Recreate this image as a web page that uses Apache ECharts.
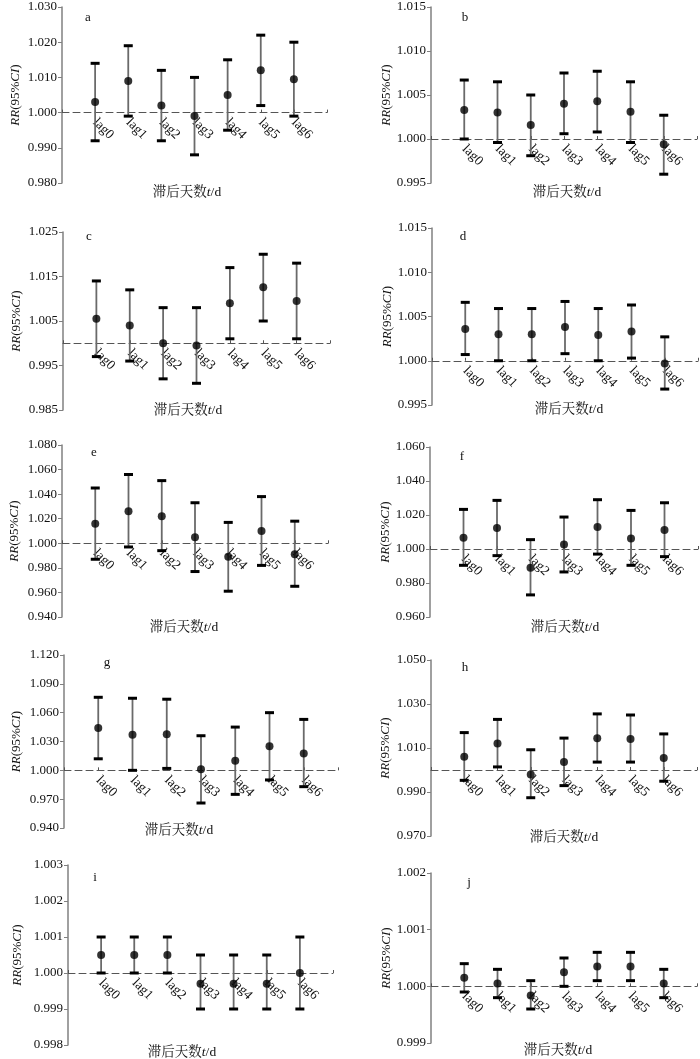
<!DOCTYPE html>
<html><head><meta charset="utf-8">
<script src="https://cdn.jsdelivr.net/npm/echarts@6/dist/echarts.min.js"></script>
<style>html,body{margin:0;padding:0;background:#fff}#c{width:700px;height:1059px}</style>
</head><body><div id="c"></div><script>
const categories = ['lag0','lag1','lag2','lag3','lag4','lag5','lag6'];
const panelLetters = ['a','b','c','d','e','f','g','h','i','j'];

// RR point estimates, lower and upper 95% CI per panel
const rrA = [1.003, 1.009, 1.002, 0.999, 1.005, 1.012, 1.0095];
const loA = [0.992, 0.999, 0.992, 0.988, 0.995, 1.002, 0.999];
const hiA = [1.014, 1.019, 1.012, 1.010, 1.015, 1.022, 1.020];

const rrB = [1.0033, 1.0030, 1.0016, 1.0040, 1.0043, 1.0031, 0.9994];
const loB = [1.0000, 0.9996, 0.9981, 1.0006, 1.0008, 0.9996, 0.9960];
const hiB = [1.0067, 1.0065, 1.0050, 1.0075, 1.0077, 1.0065, 1.0027];

const rrC = [1.0055, 1.0040, 1.0000, 0.9995, 1.0090, 1.0126, 1.0095];
const loC = [0.997, 0.996, 0.992, 0.991, 1.001, 1.005, 1.001];
const hiC = [1.014, 1.012, 1.008, 1.008, 1.017, 1.020, 1.018];

const rrD = [1.0036, 1.0030, 1.0030, 1.0038, 1.0029, 1.0033, 0.9997];
const loD = [1.0007, 1.0000, 1.0000, 1.0008, 1.0000, 1.0003, 0.9968];
const hiD = [1.0066, 1.0059, 1.0059, 1.0067, 1.0059, 1.0063, 1.0027];

const rrE = [1.016, 1.026, 1.022, 1.005, 0.989, 1.010, 0.991];
const loE = [0.987, 0.997, 0.994, 0.977, 0.961, 0.982, 0.965];
const hiE = [1.045, 1.056, 1.051, 1.033, 1.017, 1.038, 1.018];

const rrF = [1.0066, 1.0123, 0.9890, 1.0027, 1.0129, 1.0062, 1.0112];
const loF = [0.9904, 0.9961, 0.9730, 0.9865, 0.9970, 0.9904, 0.9955];
const hiF = [1.0233, 1.0286, 1.0055, 1.0188, 1.0290, 1.0227, 1.0272];

const rrG = [1.044, 1.037, 1.0375, 1.001, 1.010, 1.025, 1.0175];
const loG = [1.012, 1.000, 1.002, 0.966, 0.975, 0.990, 0.983];
const hiG = [1.076, 1.075, 1.074, 1.036, 1.045, 1.060, 1.053];

const rrH = [1.0060, 1.0120, 0.9980, 1.0036, 1.0144, 1.0141, 1.0055];
const loH = [0.9953, 1.0014, 0.9874, 0.9929, 1.0036, 1.0036, 0.9949];
const hiH = [1.0170, 1.0230, 1.0092, 1.0145, 1.0255, 1.0250, 1.0164];

const rrI = [1.0005, 1.0005, 1.0005, 0.9997, 0.9997, 0.9997, 1.0000];
const loI = [1.0000, 1.0000, 1.0000, 0.9990, 0.9990, 0.9990, 0.9990];
const hiI = [1.0010, 1.0010, 1.0010, 1.0005, 1.0005, 1.0005, 1.0010];

const rrJ = [1.00015, 1.00005, 0.99984, 1.00025, 1.00035, 1.00035, 1.00005];
const loJ = [0.9999, 0.9998, 0.9996, 1.0000, 1.0001, 1.0001, 0.9998];
const hiJ = [1.0004, 1.0003, 1.0001, 1.0005, 1.0006, 1.0006, 1.0003];

// y-axis tick labels: [min, max, step]
const yTicksA = [0.980, 1.030, 0.010];
const yTicksB = [0.995, 1.015, 0.005];
const yTicksC = [0.985, 1.025, 0.010];
const yTicksD = [0.995, 1.015, 0.005];
const yTicksE = [0.940, 1.080, 0.020];
const yTicksF = [0.960, 1.060, 0.020];
const yTicksG = [0.940, 1.120, 0.030];
const yTicksH = [0.970, 1.050, 0.020];
const yTicksI = [0.998, 1.003, 0.001];
const yTicksJ = [0.999, 1.002, 0.001];

const reference = 1.000;
const yAxisName = '{i|RR}(95%{i|CI})';
const xTitle = '{c|滞后天数}{i|t}{c|/d}';

const panels = [
  [rrA, loA, hiA, yTicksA], [rrB, loB, hiB, yTicksB],
  [rrC, loC, hiC, yTicksC], [rrD, loD, hiD, yTicksD],
  [rrE, loE, hiE, yTicksE], [rrF, loF, hiF, yTicksF],
  [rrG, loG, hiG, yTicksG], [rrH, loH, hiH, yTicksH],
  [rrI, loI, hiI, yTicksI], [rrJ, loJ, hiJ, yTicksJ]
];

// layout (pixels)
const layout = [
  {grid:[62,7,265,176],   gap:40, letter:[88,18],   xt:[187,192]},
  {grid:[431,7,266,176],  gap:38, letter:[465,18],  xt:[567,192]},
  {grid:[63,232,267,178], gap:40, letter:[89,237],  xt:[188,410]},
  {grid:[432,228,266,177],gap:38, letter:[463,237], xt:[569,409]},
  {grid:[62,445,266,172], gap:41, letter:[94,453],  xt:[184,627]},
  {grid:[430,447,268,170],gap:37, letter:[462,457], xt:[565,627]},
  {grid:[64,655,274,173], gap:41, letter:[107,663], xt:[179,830]},
  {grid:[431,660,266,176],gap:39, letter:[465,668], xt:[564,837]},
  {grid:[68,865,265,180], gap:44, letter:[95,878],  xt:[182,1052]},
  {grid:[431,873,266,170],gap:37, letter:[469,883], xt:[558,1050]}
];

const serif = '"Liberation Serif","Times New Roman",serif';
const cjk = '"Liberation Serif","Noto Serif CJK SC","Noto Sans CJK SC",serif';
const r6 = v => Math.round(v * 1e6) / 1e6;

const grids = [], xAxes = [], yAxes = [], series = [], graphics = [];

panels.forEach(([rr, lo, hi, yt], k) => {
  const L = layout[k];
  grids.push({left:L.grid[0], top:L.grid[1], width:L.grid[2], height:L.grid[3], containLabel:false});
  xAxes.push({
    type:'value', gridIndex:k, min:0, max:categories.length + 1, interval:1,
    axisLine:{onZero:true, lineStyle:{color:'#555', width:1, type:[7,4]}},
    axisTick:{show:true, inside:true, length:3, lineStyle:{color:'#555'}},
    splitLine:{show:false},
    axisLabel:{show:false}
  });
  yAxes.push({
    type:'value', gridIndex:k,
    min:r6(yt[0] - reference), max:r6(yt[1] - reference), interval:yt[2],
    axisLine:{show:true, onZero:false, lineStyle:{color:'#808080', width:1.5}},
    axisTick:{show:true, length:4, lineStyle:{color:'#808080'}},
    splitLine:{show:false},
    axisLabel:{margin:5, fontFamily:serif, fontSize:13, color:'#111',
      formatter: v => (v + reference).toFixed(3)},
    name:yAxisName, nameLocation:'middle', nameGap:L.gap, nameRotate:90,
    nameTextStyle:{fontFamily:serif, fontSize:13, color:'#111',
      rich:{i:{fontStyle:'italic', fontFamily:serif, fontSize:13, color:'#111'}}}
  });
  // category labels hanging from the reference line
  series.push({
    type:'custom', xAxisIndex:k, yAxisIndex:k, silent:true, z:2,
    data: categories.map((c, i) => [i + 1, 0]),
    renderItem(params, api) {
      const p = api.coord([api.value(0), api.value(1)]);
      return {type:'text', x:p[0], y:p[1] + 8, rotation:-Math.PI / 4,
        style:{text:categories[params.dataIndex], font:'13.5px ' + serif, fill:'#111',
          textAlign:'left', textVerticalAlign:'middle'}};
    }
  });
  const barData = categories.map((c, i) => [i + 1, r6(lo[i] - reference), r6(hi[i] - reference)]);
  series.push({
    type:'custom', xAxisIndex:k, yAxisIndex:k, data:barData, z:3,
    renderItem(params, api) {
      const x = api.value(0);
      const pLo = api.coord([x, api.value(1)]);
      const pHi = api.coord([x, api.value(2)]);
      const hw = 4.5;
      return {type:'group', children:[
        {type:'line', shape:{x1:pLo[0], y1:pLo[1], x2:pHi[0], y2:pHi[1]}, style:{stroke:'#6a6a6a', lineWidth:1.8}},
        {type:'line', shape:{x1:pHi[0]-hw, y1:pHi[1], x2:pHi[0]+hw, y2:pHi[1]}, style:{stroke:'#000', lineWidth:3}},
        {type:'line', shape:{x1:pLo[0]-hw, y1:pLo[1], x2:pLo[0]+hw, y2:pLo[1]}, style:{stroke:'#000', lineWidth:3}}
      ]};
    }
  });
  series.push({
    type:'scatter', xAxisIndex:k, yAxisIndex:k, z:4, symbol:'circle', symbolSize:8,
    itemStyle:{color:'#000'},
    data: rr.map((v, i) => [i + 1, r6(v - reference)])
  });
  graphics.push({type:'text', x:L.letter[0], y:L.letter[1],
    style:{text:panelLetters[k], font:'13px ' + serif, fill:'#111', textAlign:'center', textVerticalAlign:'middle'}});
  graphics.push({type:'text', x:L.xt[0], y:L.xt[1],
    style:{text:xTitle, textAlign:'center', textVerticalAlign:'middle', fill:'#111',
      rich:{c:{fontFamily:cjk, fontSize:13.5, color:'#111'},
            i:{fontFamily:serif, fontStyle:'italic', fontSize:13.5, color:'#111'}}}});
});

const chart = echarts.init(document.getElementById('c'), null, {renderer:'canvas'});
chart.setOption({
  animation:false,
  backgroundColor:'#fff',
  grid:grids, xAxis:xAxes, yAxis:yAxes, series:series, graphic:graphics
});
</script></body></html>
